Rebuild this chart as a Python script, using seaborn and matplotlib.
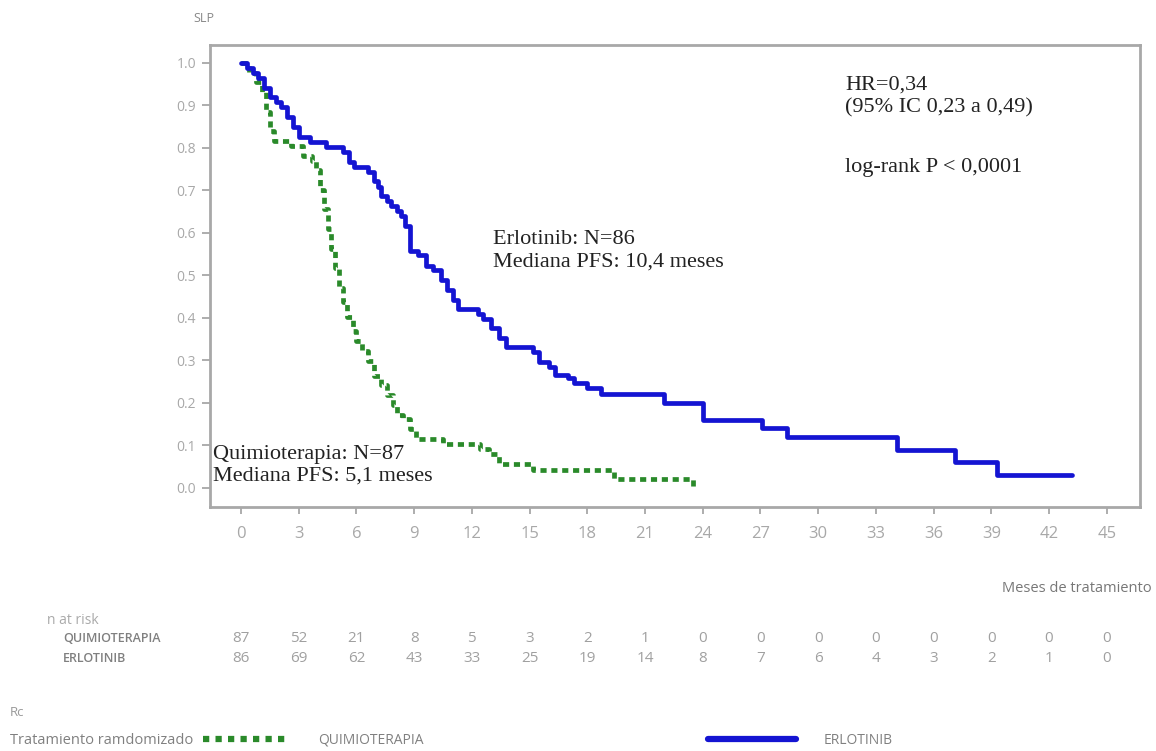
import pandas as pd
import seaborn as sns
import matplotlib.pyplot as plt
from matplotlib.lines import Line2D
from matplotlib.transforms import blended_transform_factory

# Curvas de Kaplan-Meier
meses_erlo = [0, 0.3, 0.6, 0.9, 1.2, 1.5, 1.8, 2.1, 2.4, 2.7, 3.0, 3.6, 4.4, 5.3,
              5.6, 5.9, 6.6, 6.9, 7.1, 7.3, 7.6, 7.8, 8.1, 8.3, 8.5, 8.8, 9.2, 9.6,
              10.0, 10.4, 10.7, 11.0, 11.3, 12.3, 12.6, 13.0, 13.4, 13.8, 15.2, 15.5,
              16.0, 16.3, 17.0, 17.3, 18.0, 18.7, 22.0, 24.0, 27.1, 28.4, 34.1, 37.1,
              39.3, 43.2]
slp_erlo = [1.0, 0.988, 0.977, 0.965, 0.942, 0.919, 0.907, 0.895, 0.872, 0.849, 0.826,
            0.814, 0.802, 0.791, 0.767, 0.756, 0.744, 0.721, 0.709, 0.686, 0.674, 0.663,
            0.651, 0.640, 0.616, 0.558, 0.547, 0.523, 0.512, 0.488, 0.465, 0.442, 0.421,
            0.409, 0.398, 0.375, 0.352, 0.331, 0.320, 0.297, 0.285, 0.266, 0.258, 0.246,
            0.235, 0.222, 0.20, 0.16, 0.14, 0.12, 0.09, 0.06, 0.03, 0.03]

meses_quimio = [0, 0.4, 0.8, 1.1, 1.3, 1.5, 1.7, 2.6, 3.2, 3.7, 3.9, 4.1, 4.3, 4.5,
                4.7, 4.9, 5.1, 5.3, 5.5, 5.8, 6.0, 6.3, 6.6, 6.9, 7.3, 7.6, 7.9, 8.1,
                8.4, 8.8, 9.1, 10.5, 12.4, 12.9, 13.4, 15.2, 19.4, 23.5]
slp_quimio = [1.0, 0.977, 0.954, 0.931, 0.885, 0.839, 0.816, 0.805, 0.782, 0.770, 0.747,
              0.701, 0.655, 0.609, 0.563, 0.517, 0.471, 0.437, 0.402, 0.368, 0.345, 0.322,
              0.299, 0.264, 0.241, 0.218, 0.195, 0.172, 0.161, 0.138, 0.115, 0.103, 0.092,
              0.080, 0.057, 0.042, 0.021, 0.0]

# Tabla de pacientes en riesgo
meses_riesgo = list(range(0, 46, 3))
riesgo_quimio = [87, 52, 21, 8, 5, 3, 2, 1, 0, 0, 0, 0, 0, 0, 0, 0]
riesgo_erlo = [86, 69, 62, 43, 33, 25, 19, 14, 8, 7, 6, 4, 3, 2, 1, 0]

grupos = ['QUIMIOTERAPIA', 'ERLOTINIB']
colores = {'QUIMIOTERAPIA': '#2a8a2a', 'ERLOTINIB': '#1414d2'}

df = pd.concat([
    pd.DataFrame({'mes': meses_quimio, 'slp': slp_quimio, 'grupo': 'QUIMIOTERAPIA'}),
    pd.DataFrame({'mes': meses_erlo, 'slp': slp_erlo, 'grupo': 'ERLOTINIB'}),
])

sns.set_theme(style='white')
plt.rcParams['font.family'] = ['Open Sans', 'DejaVu Sans']

fig = plt.figure(figsize=(11.56, 7.51), dpi=100)
ax = fig.add_axes([210 / 1156, 1 - 507 / 751, 930 / 1156, 462 / 751])

sns.lineplot(data=df, x='mes', y='slp', hue='grupo', style='grupo',
             hue_order=grupos, style_order=grupos, palette=colores,
             dashes={'QUIMIOTERAPIA': (1.3, 1.0), 'ERLOTINIB': ''},
             linewidth=3.4, drawstyle='steps-post', estimator=None,
             sort=False, legend=False, ax=ax)

ax.set_xlim(-1.61, 46.73)
ax.set_ylim(-0.045, 1.042)
ax.set_xticks(meses_riesgo)
ax.set_yticks([i / 10 for i in range(11)])
ax.set_yticklabels([f'{i / 10:.1f}' for i in range(11)])
ax.set_xlabel('')
ax.set_ylabel('')
for s in ax.spines.values():
    s.set_color('#a8a8a8')
    s.set_linewidth(2)
ax.tick_params(axis='x', bottom=True, direction='out', length=5, width=1.2,
               color='#a0a0a0', labelcolor='#a8a8a8', labelsize=12, pad=9)
ax.tick_params(axis='y', left=True, direction='out', length=6, width=1.2,
               color='#a0a0a0', labelcolor='#a8a8a8', labelsize=10, pad=4)

serif = 'Liberation Serif'
ax.text(13.1, 0.607, 'Erlotinib: N=86\nMediana PFS: 10,4 meses', family=serif,
        fontsize=16, color='#222222', va='top', ha='left', linespacing=1.25)
ax.text(-1.46, 0.101, 'Quimioterapia: N=87\nMediana PFS: 5,1 meses', family=serif,
        fontsize=16, color='#222222', va='top', ha='left', linespacing=1.2)
ax.text(31.4, 0.969, 'HR=0,34\n(95% IC 0,23 a 0,49)', family=serif,
        fontsize=16, color='#222222', va='top', ha='left', linespacing=1.25)
ax.text(31.4, 0.776, 'log-rank P < 0,0001', family=serif,
        fontsize=16, color='#222222', va='top', ha='left')

fig.text(204 / 1156, 1 - 19 / 751, 'SLP', fontsize=9, color='#888888',
         ha='center', va='center')
fig.text(1152 / 1156, 1 - 588 / 751, 'Meses de tratamiento', fontsize=10.5,
         color='#777777', ha='right', va='center')

# Pacientes en riesgo
tr = blended_transform_factory(ax.transData, fig.transFigure)
fig.text(47 / 1156, 1 - 621 / 751, 'n at risk', fontsize=10, color='#aaaaaa',
         ha='left', va='center')
fig.text(63 / 1156, 1 - 639 / 751, 'QUIMIOTERAPIA', fontsize=9, color='#808080',
         ha='left', va='center', fontweight='semibold')
fig.text(63 / 1156, 1 - 659 / 751, 'ERLOTINIB', fontsize=9, color='#808080',
         ha='left', va='center', fontweight='semibold')
for m, q, e in zip(meses_riesgo, riesgo_quimio, riesgo_erlo):
    ax.text(m, 1 - 639 / 751, str(q), transform=tr, fontsize=11, color='#a0a0a0',
            ha='center', va='center')
    ax.text(m, 1 - 659 / 751, str(e), transform=tr, fontsize=11, color='#a0a0a0',
            ha='center', va='center')

# Leyenda inferior
fig.text(10 / 1156, 1 - 713 / 751, 'Rc', fontsize=9.5, color='#999999',
         ha='left', va='center')
fig.text(10 / 1156, 1 - 741 / 751, 'Tratamiento ramdomizado', fontsize=10.5,
         color='#808080', ha='left', va='center')
handles = [Line2D([], [], color=colores['QUIMIOTERAPIA'], lw=4.5, dashes=(1.0, 1.0)),
           Line2D([], [], color=colores['ERLOTINIB'], lw=4.5)]
fig.legend(handles, grupos, ncol=2, frameon=False, loc='center left',
           bbox_to_anchor=(196 / 1156, 1 - 740 / 751), fontsize=10,
           handlelength=6.3, handletextpad=2.0, columnspacing=20.5,
           borderpad=0, labelcolor='#808080')

plt.savefig('out.png', dpi=100)
